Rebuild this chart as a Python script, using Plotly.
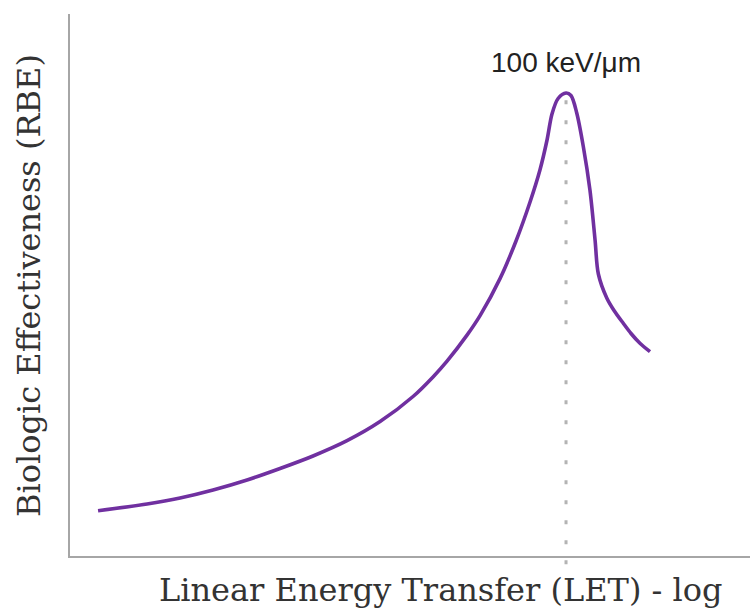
import plotly.graph_objects as go

# x is log10(LET in keV/um), y is relative RBE
log_let = [-0.836, -0.539, -0.339, -0.139, 0.067, 0.267, 0.467, 0.673, 0.873, 1.073,
           1.194, 1.279, 1.400, 1.479, 1.600, 1.697, 1.782, 1.842, 1.885, 1.915,
           1.952, 2.000, 2.030, 2.065, 2.105, 2.145, 2.176, 2.196, 2.247,
           2.291, 2.347, 2.394, 2.448, 2.509]
rbe = [0.453, 0.52, 0.58, 0.66, 0.76, 0.875, 1.00, 1.153, 1.344, 1.595,
       1.791, 1.949, 2.209, 2.404, 2.774, 3.15, 3.54, 3.86, 4.16, 4.42,
       4.575, 4.63, 4.605, 4.43, 4.093, 3.66, 3.16, 2.82, 2.58,
       2.455, 2.327, 2.225, 2.127, 2.043]
peak_log_let = 2.0
peak_label = "100 keV/\u03bcm"
x_title = "Linear Energy Transfer (LET) - log"
y_title = "Biologic Effectiveness (RBE)"

fig = go.Figure()
fig.add_trace(go.Scatter(
    x=log_let, y=rbe, mode="lines",
    line=dict(color="#7030A0", width=3.6, shape="spline", smoothing=0.9),
    hoverinfo="skip", showlegend=False,
))

fig.add_shape(type="line", xref="x", yref="paper",
              x0=peak_log_let, x1=peak_log_let, y0=0.841, y1=-0.0406,
              line=dict(color="#b3b3b3", width=3, dash="4px,16px"), layer="below")

fig.add_annotation(x=peak_log_let, xref="x", y=0.9114, yref="paper",
                   text=peak_label, showarrow=False, xanchor="center", yanchor="middle",
                   font=dict(family="Liberation Sans, Arial", size=28, color="#222222"))
fig.add_annotation(x=0.5456, xref="paper", y=-0.0627, yref="paper",
                   text=x_title, showarrow=False, xanchor="center", yanchor="middle",
                   font=dict(family="DejaVu Serif", size=32, color="#333333"))
fig.add_annotation(x=-0.0603, xref="paper", y=0.5, yref="paper",
                   text=y_title, showarrow=False, xanchor="center", yanchor="middle",
                   textangle=-90,
                   font=dict(family="DejaVu Serif", size=32, color="#333333"))

fig.update_layout(
    width=750, height=610,
    margin=dict(l=70, r=0, t=14, b=54),
    paper_bgcolor="white", plot_bgcolor="white",
    xaxis=dict(range=[-1.006, 3.115], showline=True, linecolor="#a6a6a6", linewidth=2,
               showgrid=False, zeroline=False, showticklabels=False, ticks=""),
    yaxis=dict(range=[0, 5.42], showline=True, linecolor="#a6a6a6", linewidth=2,
               showgrid=False, zeroline=False, showticklabels=False, ticks=""),
)

fig.write_html("out.html")
